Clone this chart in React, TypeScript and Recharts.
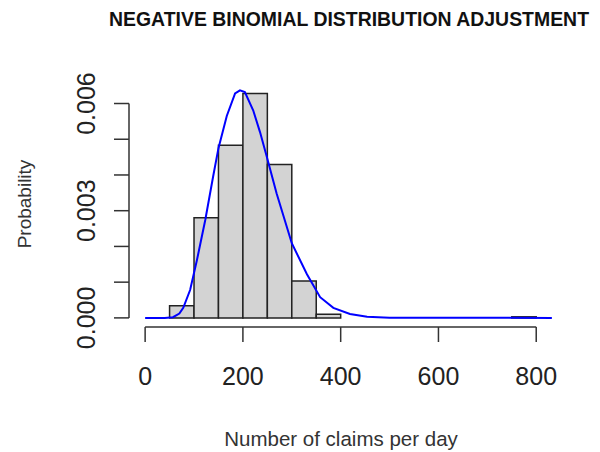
import { ComposedChart, Line, XAxis, YAxis, ReferenceArea, ReferenceLine } from 'recharts'

// histogram bins (width 50) and their densities
const binStarts = [0, 50, 100, 150, 200, 250, 300, 350, 400, 450, 500, 550, 600, 650, 700, 750]
const binDensity = [0, 0.00034, 0.0028, 0.00483, 0.00628, 0.00429, 0.00103, 0.0001, 0, 0, 0, 0, 0, 0, 0, 0.00003]
const binWidth = 50

// fitted negative binomial curve
const curveX = [0, 40, 57, 70, 78, 92, 106, 123, 139, 150, 167, 184, 194, 204, 221, 235, 249, 269, 300, 331, 358, 385, 419, 454, 500, 832]
const curveP = [0, 0, 0.00002, 0.00012, 0.00028, 0.00078, 0.00162, 0.00274, 0.00395, 0.00475, 0.00565, 0.00628, 0.00637, 0.00632, 0.00581, 0.0052, 0.0045, 0.00348, 0.00209, 0.00122, 0.00058, 0.00028, 0.00011, 0.00003, 0.000005, 0]

const xTicks = [0, 200, 400, 600, 800]
const yTicks = [0, 0.001, 0.002, 0.003, 0.004, 0.005, 0.006]
const yLabelled = [0, 0.003, 0.006]

const xDomain = [-33, 865]
const yDomain = [-0.000255, 0.00663]

const curveData = curveX.map((x, i) => ({ x, p: curveP[i] }))

const XTick = (props: any) => (
  <text x={props.x} y={props.y + 41} textAnchor="middle" fontSize={25} fill="#222" fontFamily="Liberation Sans, Arial, sans-serif">
    {props.payload.value}
  </text>
)

const YTick = (props: any) => {
  const v = props.payload.value
  if (!yLabelled.some((l) => Math.abs(l - v) < 1e-9)) return null
  const x = props.x - 17
  return (
    <text x={x} y={props.y} transform={`rotate(-90, ${x}, ${props.y})`} textAnchor="middle" fontSize={25} fill="#222" fontFamily="Liberation Sans, Arial, sans-serif">
      {v.toFixed(3)}
    </text>
  )
}

export default function App() {
  return (
    <div style={{ position: 'absolute', left: 0, top: 0, width: 600, height: 452, background: '#fff' }}>
      <ComposedChart width={600} height={452} data={curveData} margin={{ top: 81, right: 32, bottom: 65, left: 69 }}>
        <XAxis dataKey="x" type="number" domain={xDomain} allowDataOverflow ticks={xTicks} axisLine={false}
          tickLine={{ stroke: '#333', strokeWidth: 1.5 }} tickSize={15} height={60} tick={<XTick />} interval={0} />
        <YAxis type="number" domain={yDomain} allowDataOverflow ticks={yTicks} axisLine={false}
          tickLine={{ stroke: '#333', strokeWidth: 1.5 }} tickSize={15} width={60} tick={<YTick />} interval={0} />
        {binStarts.map((s, i) => (
          <ReferenceArea key={s} x1={s} x2={s + binWidth} y1={0} y2={binDensity[i]} ifOverflow="visible"
            fill="#d3d3d3" fillOpacity={1} stroke="#222" strokeWidth={1.5} />
        ))}
        <ReferenceLine segment={[{ x: xTicks[0], y: yDomain[0] }, { x: xTicks[xTicks.length - 1], y: yDomain[0] }]}
          stroke="#333" strokeWidth={1.5} ifOverflow="visible" />
        <ReferenceLine segment={[{ x: xDomain[0], y: yTicks[0] }, { x: xDomain[0], y: yTicks[yTicks.length - 1] }]}
          stroke="#333" strokeWidth={1.5} ifOverflow="visible" />
        <Line type="linear" dataKey="p" stroke="#0000ff" strokeWidth={2} dot={false} isAnimationActive={false} />
      </ComposedChart>
      <svg width={600} height={452} style={{ position: 'absolute', left: 0, top: 0, pointerEvents: 'none' }}>
        <g transform="translate(349, 26) scale(1, 1.2)">
          <text x={0} y={0} textAnchor="middle" fontSize={17} fontWeight="bold" fill="#111" fontFamily="Liberation Sans, Arial, sans-serif"
            textLength={480} lengthAdjust="spacingAndGlyphs">
            NEGATIVE BINOMIAL DISTRIBUTION ADJUSTMENT
          </text>
        </g>
        <text x={31} y={204} transform="rotate(-90, 31, 204)" textAnchor="middle" fontSize={19} fill="#333" fontFamily="Liberation Sans, Arial, sans-serif">
          Probability
        </text>
        <text x={341} y={446} textAnchor="middle" fontSize={20.5} fill="#333" fontFamily="Liberation Sans, Arial, sans-serif">
          Number of claims per day
        </text>
      </svg>
    </div>
  )
}
